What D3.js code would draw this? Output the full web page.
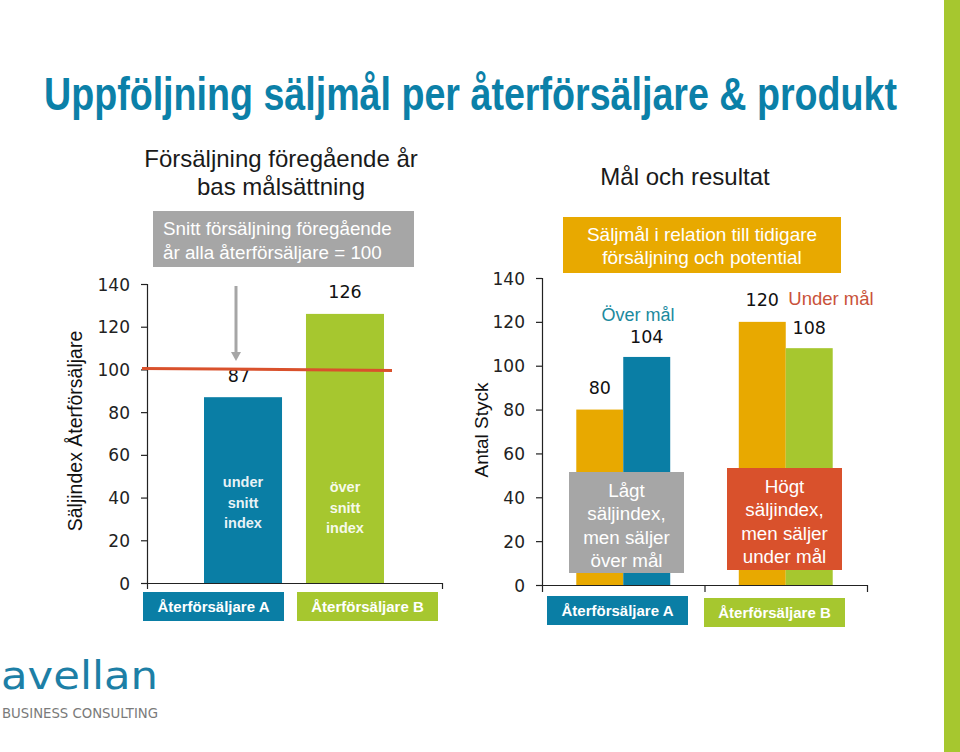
<!DOCTYPE html>
<html>
<head>
<meta charset="utf-8">
<script src="https://cdn.jsdelivr.net/npm/d3@7"></script>
<style>
  html, body { margin: 0; padding: 0; background: #fff; }
  svg { display: block; }
  .tick text { font-family: "DejaVu Sans", sans-serif; font-size: 17px; fill: #222; }
  .axis path, .axis line { stroke: #222; stroke-width: 1.2; }
</style>
</head>
<body>
<svg id="chart" width="960" height="752"></svg>
<script>
// ---------- data ----------
const categories = ["Återförsäljare A", "Återförsäljare B"];
const indexValues = [87, 126];           // Säljindex per återförsäljare
const baselineIndex = 100;               // snitt = 100
const targetValues = [80, 120];          // säljmål (Antal Styck)
const actualValues = [104, 108];         // resultat (Antal Styck)
const yTicks = [0, 20, 40, 60, 80, 100, 120, 140];
const indexNotes = [["under", "snitt", "index"], ["över", "snitt", "index"]];
const resultNotes = [["Lågt", "säljindex,", "men säljer", "över mål"], ["Högt", "säljindex,", "men säljer", "under mål"]];
const resultFlags = ["Över mål", "Under mål"];

// ---------- style ----------
const BLUE = "#0a7ea5", GREEN = "#a6c72f", ORANGE = "#e8a900", RED = "#d9512c", GRAY = "#a6a6a6";
const SANS = "'Liberation Sans', Arial, sans-serif";
const NUM = "'DejaVu Sans', sans-serif";

const svg = d3.select("#chart");

// Right decorative stripe
svg.append("rect").attr("x", 944).attr("y", 0).attr("width", 16).attr("height", 752).attr("fill", GREEN);

// Title (condensed look via vertical stretch)
svg.append("text").attr("transform", "translate(44,110) scale(1,1.16)")
  .attr("font-family", "'Liberation Sans Narrow', 'Liberation Sans', Arial, sans-serif")
  .attr("font-weight", "bold").attr("font-size", 40).attr("fill", "#0b80a8")
  .attr("textLength", 853).attr("lengthAdjust", "spacingAndGlyphs")
  .text("Uppföljning säljmål per återförsäljare & produkt");

// ---------- left chart ----------
const yL = d3.scaleLinear().domain([0, 140]).range([583, 284]);
const xL = d3.scaleBand().domain(categories).range([147, 441]).paddingInner(0.235).paddingOuter(0.559);

svg.append("g").attr("class", "axis").attr("transform", "translate(147,0)")
  .call(d3.axisLeft(yL).tickValues(yTicks).tickSize(6).tickPadding(11))
  .call(g => g.selectAll(".tick text").attr("dy", "0.36em"));

const xLb = d3.scaleLinear().domain([0, 2]).range([147, 442]);
svg.append("g").attr("class", "axis").attr("transform", `translate(0,${yL(0)})`)
  .call(d3.axisBottom(xLb).tickValues([0, 2]).tickFormat("").tickSizeInner(6).tickSizeOuter(0));

const leftColors = [BLUE, GREEN];
svg.selectAll(".barL").data(indexValues).join("rect")
  .attr("x", (d, i) => xL(categories[i])).attr("width", xL.bandwidth())
  .attr("y", d => yL(d)).attr("height", d => yL(0) - yL(d))
  .attr("fill", (d, i) => leftColors[i]);

// value labels
svg.selectAll(".valL").data(indexValues).join("text")
  .attr("x", (d, i) => xL(categories[i]) + xL.bandwidth() / 2 - (i === 0 ? 4 : 0))
  .attr("y", (d, i) => i === 0 ? yL(d) - 15 : yL(d) - 16)
  .attr("text-anchor", "middle").attr("font-family", NUM).attr("font-size", 17.5).attr("fill", "#111")
  .text(d => d);

// notes inside bars
indexNotes.forEach((lines, i) => {
  const cx = xL(categories[i]) + xL.bandwidth() / 2;
  const y0 = i === 0 ? 487 : 492;
  lines.forEach((t, k) => {
    svg.append("text").attr("x", cx).attr("y", y0 + k * 20.5)
      .attr("text-anchor", "middle").attr("font-family", SANS).attr("font-weight", "bold")
      .attr("font-size", 14.5).attr("fill", "#fff").attr("fill-opacity", 0.92).text(t);
  });
});

// baseline (index 100)
svg.append("line").attr("x1", 142).attr("x2", 392)
  .attr("y1", yL(baselineIndex) - 1).attr("y2", yL(baselineIndex) + 1)
  .attr("stroke", RED).attr("stroke-width", 3);

// gray arrow
svg.append("line").attr("x1", 236).attr("x2", 236).attr("y1", 286).attr("y2", 354)
  .attr("stroke", GRAY).attr("stroke-width", 3);
svg.append("path").attr("d", "M231,352 L241,352 L236,361 Z").attr("fill", GRAY);

// category label boxes (left)
const leftBoxes = [[143, 592, 141, 29], [297, 592, 141, 29]];
categories.forEach((c, i) => {
  const b = leftBoxes[i];
  svg.append("rect").attr("x", b[0]).attr("y", b[1]).attr("width", b[2]).attr("height", b[3]).attr("fill", leftColors[i]);
  svg.append("text").attr("x", b[0] + b[2] / 2).attr("y", b[1] + 20).attr("text-anchor", "middle")
    .attr("font-family", SANS).attr("font-weight", "bold").attr("font-size", 15).attr("fill", "#fff").text(c);
});

// y title left
svg.append("text").attr("transform", "translate(82,431) rotate(-90)").attr("text-anchor", "middle")
  .attr("font-family", SANS).attr("font-size", 19.5).attr("fill", "#111").text("Säljindex Återförsäljare");

// headings left
svg.append("text").attr("x", 281).attr("y", 167).attr("text-anchor", "middle")
  .attr("font-family", SANS).attr("font-size", 24).attr("fill", "#1a1a1a").text("Försäljning föregående år");
svg.append("text").attr("x", 281).attr("y", 195).attr("text-anchor", "middle")
  .attr("font-family", SANS).attr("font-size", 24).attr("fill", "#1a1a1a").text("bas målsättning");

svg.append("rect").attr("x", 153).attr("y", 211).attr("width", 261).attr("height", 56).attr("fill", GRAY);
svg.append("text").attr("x", 163).attr("y", 235).attr("font-family", SANS).attr("font-size", 18.8).attr("fill", "#fff")
  .text("Snitt försäljning föregående");
svg.append("text").attr("x", 163).attr("y", 259).attr("font-family", SANS).attr("font-size", 18.8).attr("fill", "#fff")
  .text("år alla återförsäljare = 100");

// ---------- right chart ----------
const yR = d3.scaleLinear().domain([0, 140]).range([585, 278]);
const xR = d3.scaleBand().domain(categories).range([542, 867]);
const series = ["mål", "resultat"];
const xR1 = d3.scaleBand().domain(series).range([0, xR.bandwidth()]).paddingOuter(0.73);

svg.append("g").attr("class", "axis").attr("transform", "translate(542,0)")
  .call(d3.axisLeft(yR).tickValues(yTicks).tickSize(6).tickPadding(11))
  .call(g => g.selectAll(".tick text").attr("dy", "0.36em"));

const xRb = d3.scaleLinear().domain([0, 2]).range([542, 867]);
svg.append("g").attr("class", "axis").attr("transform", `translate(0,${yR(0)})`)
  .call(d3.axisBottom(xRb).tickValues([0, 1, 2]).tickFormat("").tickSizeInner(7).tickSizeOuter(0));

const actualColors = [BLUE, GREEN];
categories.forEach((c, i) => {
  const gx = xR(c);
  const tx = gx + xR1("mål"), ax = gx + xR1("resultat"), bw = xR1.bandwidth();
  svg.append("rect").attr("x", tx).attr("width", bw).attr("y", yR(targetValues[i]))
    .attr("height", yR(0) - yR(targetValues[i])).attr("fill", ORANGE);
  svg.append("rect").attr("x", ax).attr("width", bw).attr("y", yR(actualValues[i]))
    .attr("height", yR(0) - yR(actualValues[i])).attr("fill", actualColors[i]);
  // value labels
  svg.append("text").attr("x", tx + bw / 2).attr("y", yR(targetValues[i]) - 16)
    .attr("text-anchor", "middle").attr("font-family", NUM).attr("font-size", 17.5).attr("fill", "#111")
    .text(targetValues[i]);
  svg.append("text").attr("x", ax + bw / 2).attr("y", yR(actualValues[i]) - 14)
    .attr("text-anchor", "middle").attr("font-family", NUM).attr("font-size", 17.5).attr("fill", "#111")
    .text(actualValues[i]);
});

// flags
svg.append("text").attr("x", 638).attr("y", 321).attr("text-anchor", "middle")
  .attr("font-family", SANS).attr("font-size", 18).attr("fill", "#1b8a9e").text(resultFlags[0]);
svg.append("text").attr("x", 831).attr("y", 305).attr("text-anchor", "middle")
  .attr("font-family", SANS).attr("font-size", 18.5).attr("fill", "#c9523a").text(resultFlags[1]);

// note boxes
const noteBoxes = [[569, 472, 115, 101, GRAY, 497], [727, 468, 115, 102, RED, 493]];
resultNotes.forEach((lines, i) => {
  const b = noteBoxes[i];
  svg.append("rect").attr("x", b[0]).attr("y", b[1]).attr("width", b[2]).attr("height", b[3]).attr("fill", b[4]);
  lines.forEach((t, k) => {
    svg.append("text").attr("x", b[0] + b[2] / 2).attr("y", b[5] + k * 23.3).attr("text-anchor", "middle")
      .attr("font-family", SANS).attr("font-size", 18.8).attr("fill", "#fff").text(t);
  });
});

// category label boxes (right)
const rightBoxes = [[547, 596, 141, 29], [704, 598, 141, 29]];
categories.forEach((c, i) => {
  const b = rightBoxes[i];
  svg.append("rect").attr("x", b[0]).attr("y", b[1]).attr("width", b[2]).attr("height", b[3]).attr("fill", actualColors[i]);
  svg.append("text").attr("x", b[0] + b[2] / 2).attr("y", b[1] + 20).attr("text-anchor", "middle")
    .attr("font-family", SANS).attr("font-weight", "bold").attr("font-size", 15).attr("fill", "#fff").text(c);
});

// y title right
svg.append("text").attr("transform", "translate(488,430) rotate(-90)").attr("text-anchor", "middle")
  .attr("font-family", SANS).attr("font-size", 19).attr("fill", "#111").text("Antal Styck");

// heading right
svg.append("text").attr("x", 685).attr("y", 185).attr("text-anchor", "middle")
  .attr("font-family", SANS).attr("font-size", 24).attr("fill", "#1a1a1a").text("Mål och resultat");

svg.append("rect").attr("x", 563).attr("y", 217).attr("width", 278).attr("height", 56).attr("fill", ORANGE);
svg.append("text").attr("x", 702).attr("y", 241).attr("text-anchor", "middle").attr("font-family", SANS)
  .attr("font-size", 19).attr("fill", "#fff").text("Säljmål i relation till tidigare");
svg.append("text").attr("x", 702).attr("y", 264).attr("text-anchor", "middle").attr("font-family", SANS)
  .attr("font-size", 19).attr("fill", "#fff").text("försäljning och potential");

// ---------- logo ----------
svg.append("text").attr("x", 1).attr("y", 689).attr("font-family", "'DejaVu Sans', sans-serif")
  .attr("font-size", 39).attr("fill", "#1d7fa6").attr("textLength", 157).attr("lengthAdjust", "spacingAndGlyphs")
  .text("avellan");
svg.append("text").attr("x", 2).attr("y", 718).attr("font-family", "'DejaVu Sans', sans-serif")
  .attr("font-size", 13.5).attr("fill", "#7a7a7a").attr("textLength", 156).attr("lengthAdjust", "spacingAndGlyphs")
  .text("BUSINESS CONSULTING");
</script>
</body>
</html>
